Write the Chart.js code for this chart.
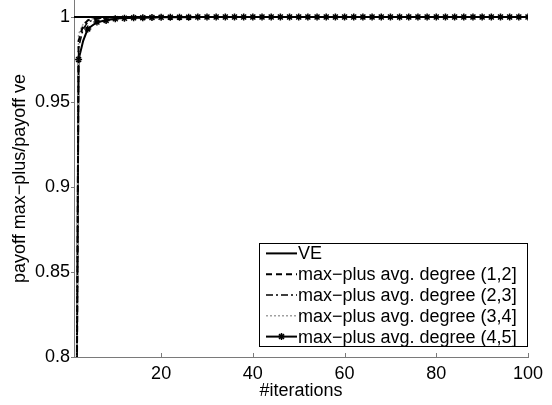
<!DOCTYPE html>
<html>
<head>
<meta charset="utf-8">
<script src="https://cdn.jsdelivr.net/npm/chart.js@4.4.0/dist/chart.umd.min.js"></script>
<style>
  html, body { margin: 0; padding: 0; background: #fff; }
</style>
</head>
<body>
<canvas id="payoffChart" width="552" height="405"></canvas>
<script>
// iterations 1..100
const iterations = Array.from({ length: 100 }, (_, i) => i + 1);

const veValues = [
  1, 1, 1, 1, 1, 1, 1, 1, 1, 1, 1, 1, 1, 1, 1, 1, 1, 1, 1, 1,
  1, 1, 1, 1, 1, 1, 1, 1, 1, 1, 1, 1, 1, 1, 1, 1, 1, 1, 1, 1,
  1, 1, 1, 1, 1, 1, 1, 1, 1, 1, 1, 1, 1, 1, 1, 1, 1, 1, 1, 1,
  1, 1, 1, 1, 1, 1, 1, 1, 1, 1, 1, 1, 1, 1, 1, 1, 1, 1, 1, 1,
  1, 1, 1, 1, 1, 1, 1, 1, 1, 1, 1, 1, 1, 1, 1, 1, 1, 1, 1, 1
];
const deg12 = [
  0.45, 0.986, 0.995, 0.998, 0.999, 0.9993, 0.9995, 0.9996, 0.9997, 0.9998,
  0.9998, 0.9998, 0.9999, 0.9999, 0.9999, 0.9999, 0.9999, 0.9999, 0.9999, 1,
  1, 1, 1, 1, 1, 1, 1, 1, 1, 1, 1, 1, 1, 1, 1, 1, 1, 1, 1, 1,
  1, 1, 1, 1, 1, 1, 1, 1, 1, 1, 1, 1, 1, 1, 1, 1, 1, 1, 1, 1,
  1, 1, 1, 1, 1, 1, 1, 1, 1, 1, 1, 1, 1, 1, 1, 1, 1, 1, 1, 1,
  1, 1, 1, 1, 1, 1, 1, 1, 1, 1, 1, 1, 1, 1, 1, 1, 1, 1, 1, 1
];
const deg23 = [
  0.42, 0.982, 0.993, 0.997, 0.998, 0.999, 0.9994, 0.9995, 0.9996, 0.9997,
  0.9998, 0.9998, 0.9998, 0.9999, 0.9999, 0.9999, 0.9999, 0.9999, 1, 1,
  1, 1, 1, 1, 1, 1, 1, 1, 1, 1, 1, 1, 1, 1, 1, 1, 1, 1, 1, 1,
  1, 1, 1, 1, 1, 1, 1, 1, 1, 1, 1, 1, 1, 1, 1, 1, 1, 1, 1, 1,
  1, 1, 1, 1, 1, 1, 1, 1, 1, 1, 1, 1, 1, 1, 1, 1, 1, 1, 1, 1,
  1, 1, 1, 1, 1, 1, 1, 1, 1, 1, 1, 1, 1, 1, 1, 1, 1, 1, 1, 1
];
const deg34 = [
  0.48, 0.99, 0.996, 0.998, 0.999, 0.9993, 0.9995, 0.9996, 0.9997, 0.9998,
  0.9998, 0.9999, 0.9999, 0.9999, 0.9999, 0.9999, 1, 1, 1, 1,
  1, 1, 1, 1, 1, 1, 1, 1, 1, 1, 1, 1, 1, 1, 1, 1, 1, 1, 1, 1,
  1, 1, 1, 1, 1, 1, 1, 1, 1, 1, 1, 1, 1, 1, 1, 1, 1, 1, 1, 1,
  1, 1, 1, 1, 1, 1, 1, 1, 1, 1, 1, 1, 1, 1, 1, 1, 1, 1, 1, 1,
  1, 1, 1, 1, 1, 1, 1, 1, 1, 1, 1, 1, 1, 1, 1, 1, 1, 1, 1, 1
];
const deg45 = [
  0.5, 0.975, 0.986, 0.993, 0.995, 0.997, 0.9975, 0.998, 0.9985, 0.999,
  0.9992, 0.9993, 0.9994, 0.9995, 0.9996, 0.9996, 0.9997, 0.9997, 0.9998, 0.9998,
  0.9998, 0.9999, 0.9999, 0.9999, 0.9999, 0.9999, 0.9999, 1, 1, 1,
  1, 1, 1, 1, 1, 1, 1, 1, 1, 1,
  1, 1, 1, 1, 1, 1, 1, 1, 1, 1, 1, 1, 1, 1, 1, 1, 1, 1, 1, 1,
  1, 1, 1, 1, 1, 1, 1, 1, 1, 1, 1, 1, 1, 1, 1, 1, 1, 1, 1, 1,
  1, 1, 1, 1, 1, 1, 1, 1, 1, 1, 1, 1, 1, 1, 1, 1, 1, 1, 1, 1
];

const xTicks = [20, 40, 60, 80, 100];
const yTicks = [0.8, 0.85, 0.9, 0.95, 1];
const seriesNames = [
  'VE',
  'max\u2212plus avg. degree (1,2]',
  'max\u2212plus avg. degree (2,3]',
  'max\u2212plus avg. degree (3,4]',
  'max\u2212plus avg. degree (4,5]'
];

const FONT = 'Liberation Sans, Arial, Helvetica, sans-serif';
const AXIS_COLOR = '#7a7a7a';

function toPoints(values) {
  return iterations.map((x, i) => ({ x: x, y: values[i] }));
}

// tick marks: x inward, y outward (as in the original figure)
const tickMarks = {
  id: 'tickMarks',
  afterDraw(chart) {
    const c = chart.ctx, xs = chart.scales.x, ys = chart.scales.y;
    c.save();
    c.strokeStyle = AXIS_COLOR;
    c.lineWidth = 1;
    c.beginPath();
    xTicks.forEach(v => {
      const px = Math.round(xs.getPixelForValue(v)) + 0.5;
      c.moveTo(px, ys.bottom);
      c.lineTo(px, ys.bottom - 4);
    });
    yTicks.forEach(v => {
      const py = Math.round(ys.getPixelForValue(v)) + 0.5;
      c.moveTo(xs.left, py);
      c.lineTo(xs.left - 3, py);
    });
    c.stroke();
    c.restore();
  }
};

function drawStar(c, x, y, r) {
  c.beginPath();
  c.moveTo(x - r, y); c.lineTo(x + r, y);
  c.moveTo(x, y - r); c.lineTo(x, y + r);
  const d = r * 0.7071;
  c.moveTo(x - d, y - d); c.lineTo(x + d, y + d);
  c.moveTo(x - d, y + d); c.lineTo(x + d, y - d);
  c.stroke();
}

// legend box drawn inside the plot area, bottom right
const boxLegend = {
  id: 'boxLegend',
  afterDraw(chart) {
    const c = chart.ctx;
    const right = chart.chartArea.right;
    const left = 259, top = 243, bottom = 347;
    const rowH = (bottom - top) / seriesNames.length;
    c.save();
    c.fillStyle = '#fff';
    c.fillRect(left, top, right - left, bottom - top);
    c.strokeStyle = '#000';
    c.lineWidth = 1;
    c.strokeRect(left + 0.5, top + 0.5, right - left - 1, bottom - top - 1);
    c.font = '18px ' + FONT;
    c.textBaseline = 'middle';
    c.textAlign = 'left';
    chart.data.datasets.forEach((ds, i) => {
      const y = top + rowH * (i + 0.5);
      c.strokeStyle = ds.borderColor;
      c.lineWidth = ds.borderWidth;
      c.setLineDash(ds.borderDash || []);
      c.beginPath();
      c.moveTo(266, y);
      c.lineTo(297, y);
      c.stroke();
      c.setLineDash([]);
      if (ds.legendMarker) {
        c.lineWidth = 1.5;
        drawStar(c, 281.5, y, 3.5);
      }
      c.fillStyle = '#000';
      c.fillText(seriesNames[i], 298, y + 1);
    });
    c.restore();
  }
};

document.addEventListener('DOMContentLoaded', function() {
  const ctx = document.getElementById('payoffChart').getContext('2d');
  new Chart(ctx, {
    type: 'line',
    data: {
      datasets: [
        {
          label: seriesNames[0],
          data: toPoints(veValues),
          borderColor: '#000',
          borderWidth: 2,
          pointRadius: 0
        },
        {
          label: seriesNames[1],
          data: toPoints(deg12),
          borderColor: '#000',
          borderWidth: 2,
          borderDash: [6, 4],
          pointRadius: 0
        },
        {
          label: seriesNames[2],
          data: toPoints(deg23),
          borderColor: '#000',
          borderWidth: 1.5,
          borderDash: [7, 3, 2, 3],
          pointRadius: 0
        },
        {
          label: seriesNames[3],
          data: toPoints(deg34),
          borderColor: '#a0a0a0',
          borderWidth: 1.5,
          borderDash: [2, 2],
          pointRadius: 0
        },
        {
          label: seriesNames[4],
          data: toPoints(deg45),
          borderColor: '#000',
          borderWidth: 2,
          pointStyle: 'star',
          pointBorderWidth: 1.5,
          pointBorderColor: '#000',
          pointRadius: c => (iterations[c.dataIndex] % 2 === 0 ? 3.5 : 0),
          legendMarker: true
        }
      ]
    },
    options: {
      responsive: false,
      animation: false,
      layout: { autoPadding: false, padding: { top: 0, right: 24, left: 0, bottom: 0 } },
      plugins: {
        legend: { display: false },
        tooltip: { enabled: false }
      },
      scales: {
        x: {
          type: 'linear',
          min: 1,
          max: 100,
          afterFit: s => { s.height = 48; s.paddingLeft = 0; s.paddingRight = 0; },
          afterBuildTicks: s => { s.ticks = xTicks.map(v => ({ value: v })); },
          grid: { display: false, drawTicks: false },
          border: { display: true, color: AXIS_COLOR, width: 1 },
          ticks: { color: '#000', font: { family: FONT, size: 18 }, padding: 6, maxRotation: 0 },
          title: {
            display: true,
            text: '#iterations',
            color: '#000',
            font: { family: FONT, size: 18 },
            padding: { top: 0, bottom: 3 }
          }
        },
        y: {
          min: 0.8,
          max: 1.01,
          afterFit: s => { s.width = 74; s.paddingTop = 0; s.paddingBottom = 0; },
          afterBuildTicks: s => { s.ticks = yTicks.map(v => ({ value: v })); },
          grid: { display: false, drawTicks: false },
          border: { display: true, color: AXIS_COLOR, width: 1 },
          ticks: {
            color: '#000',
            font: { family: FONT, size: 18 },
            padding: 4,
            callback: v => String(v)
          },
          title: {
            display: true,
            text: 'payoff max\u2212plus/payoff ve',
            color: '#000',
            font: { family: FONT, size: 18 },
            padding: { top: 9, bottom: 0 }
          }
        }
      }
    },
    plugins: [tickMarks, boxLegend]
  });
});
</script>
</body>
</html>
